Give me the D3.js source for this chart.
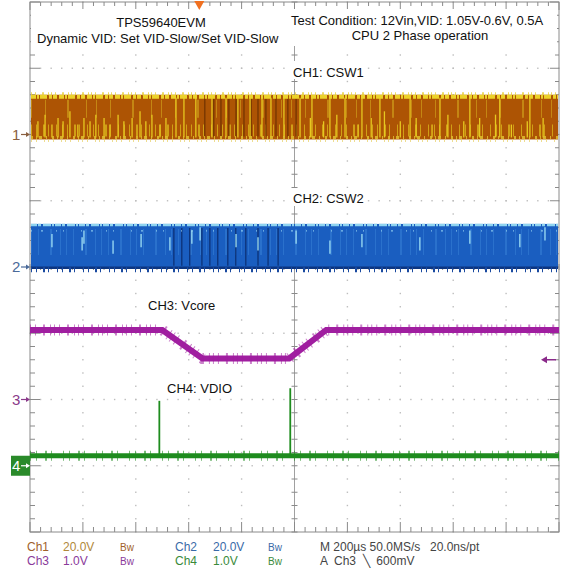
<!DOCTYPE html>
<html><head><meta charset="utf-8">
<script src="https://cdn.jsdelivr.net/npm/d3@7"></script>
<style>body{margin:0;background:#fff} svg{display:block}</style>
</head><body><svg id="c" width="564" height="569"></svg>
<script>
// ---------- data ----------
const timeRange = [-640, 1360];          // µs, 200 µs/div, trigger at 0
const chOffsetDiv = [2, 0, -2, -3];      // ground marker position (div)
const chVoltsPerDiv = [20, 20, 1, 1];
const ch1Band = [-1.5, 12];              // V (switching band low/high)
const ch2Band = [-0.5, 13];
const ch3Time = [-640, -140, 12, 340, 480, 1360];
const ch3Volt = [1.05, 1.05, 0.62, 0.62, 1.05, 1.05];
const ch4Time = [-640, 1360];
const ch4Volt = [0.15, 0.15];
const ch4SpikeT = [-151, 344];
const ch4SpikeV = [0.98, 1.17];
const ch1ShortStreakT = [-610,-583,-557,-534,-515,-489,-459,-436,-413,-391,-360,-338,-307,-285,-254,-224,-202,-179,-149,-126,420,470,520,600,650,700,760,820,880,940,1000,1060,1120,1180,1240,1300];
const ch1ShortStreakV = [4,6,3,5,4,7,3,5,4,6,5,3,6,4,5,7,4,6,3,5,5,4,6,3,5,7,4,5,3,6,4,5,6,3,4,5];
const ch1TallStreakT = [-88,-58,-13,48,101,146,192,237,271,320,381,426,494,551,615,683,797,910,1023,1136,1250];
const ch1DarkStreakT = [21,55,82,112,139,169,196,222,252,290,335,366];
const ch2LightStreakT = [-557,-443,-436,-326,-220,-111,-28,3,139,222,366,494,615,834,1023,1212,1307];
const ch2LightStreakV = [10,9,11,8,10,9,11,12,10,9,11,8,10,9,11,10,12];
const ch2DarkStreakT = [-96,-66,-36,10,40,70,108,138,176,222,260,298];
const triggerLevelV = 0.6;
const statusX = [27, 63, 120, 175, 213, 268, 320, 430];
const statusRow1 = ["Ch1","20.0V","Bw","Ch2","20.0V","Bw","M 200µs 50.0MS/s","20.0ns/pt"];
const statusRow2 = ["Ch3","1.0V","Bw","Ch4","1.0V","Bw","A  Ch3  \u2572  600mV"];
const statusCol1 = ["#a0602a","#b0883a","#a0602a","#3a6aa8","#3a6aa8","#3a6aa8","#444","#444"];
const statusCol2 = ["#8a3a9a","#8a3a9a","#8a3a9a","#3a8a3a","#3a8a3a","#3a8a3a","#444"];

// ---------- layout ----------
const L=30, R=559, T=2, B=532;
const svg = d3.select("#c");
const x = d3.scaleLinear().domain(timeRange).range([L,R]);
const yDiv = d3.scaleLinear().domain([-4,4]).range([B,T]);
const yV = (ch,v) => yDiv(chOffsetDiv[ch] + v/chVoltsPerDiv[ch]);
const divT = i => timeRange[0] + i*200;
const FONT = "'Liberation Sans', Arial, sans-serif";
const NARROW = "'Liberation Sans Narrow','Arial Narrow','Liberation Sans',sans-serif";

// grid dots
const g = svg.append("g");
const dots = [];
for (let i=1;i<10;i++){ if(i===5) continue; for(let j=0;j<=40;j++) dots.push([x(divT(i)), yDiv(-4+j*0.2)]); }
for (let k=-3;k<=3;k++){ if(k===0) continue; for(let j=0;j<=50;j++) dots.push([x(timeRange[0]+j*40), yDiv(k)]); }
g.selectAll("rect.dot").data(dots).join("rect").attr("class","dot")
  .attr("x",d=>d[0]-0.7).attr("y",d=>d[1]-0.7).attr("width",1.4).attr("height",1.4).attr("fill","#bdbdbd");

// frame
const cx = x(divT(5)), cy = yDiv(0);
g.append("rect").attr("x",L).attr("y",T).attr("width",R-L).attr("height",B-T).attr("fill","none").attr("stroke","#8a8a8a").attr("stroke-width",1);
g.append("line").attr("x1",cx).attr("x2",cx).attr("y1",T).attr("y2",B).attr("stroke","#a0a0a0");
g.append("line").attr("x1",L).attr("x2",R).attr("y1",cy).attr("y2",cy).attr("stroke","#a0a0a0");
const ticks = [];
for(let j=0;j<=50;j++){ const xx=x(timeRange[0]+j*40), maj=j%5===0;
  ticks.push([xx,T,xx,T+(maj?8:4)]); ticks.push([xx,B,xx,B-(maj?10:5)]);
  ticks.push([xx,cy-3,xx,cy+3]); }
for(let j=0;j<=40;j++){ const yy=yDiv(-4+j*0.2), maj=j%5===0;
  ticks.push([L,yy,L+(maj?10:5),yy]); ticks.push([R,yy,R-(maj?9:4),yy]);
  ticks.push([cx-3,yy,cx+3,yy]); }
g.selectAll("line.tk").data(ticks).join("line").attr("class","tk")
  .attr("x1",d=>d[0]).attr("y1",d=>d[1]).attr("x2",d=>d[2]).attr("y2",d=>d[3]).attr("stroke","#8a8a8a");

// white boxes behind text
const wb=[[31,9,258,40],[287,9,270,37],[289,61,74,18],[289,188,74,18],[144,295,66,18],[163,377,76,18]];
svg.selectAll("rect.wb").data(wb).join("rect").attr("class","wb")
  .attr("x",d=>d[0]).attr("y",d=>d[1]).attr("width",d=>d[2]).attr("height",d=>d[3]).attr("fill","#fff");

// ---------- CH1 ----------
const c1 = svg.append("g");
const c1Top = yV(0,ch1Band[1]), c1Bot = yV(0,ch1Band[0]);
c1.append("rect").attr("x",L+1).attr("y",c1Top).attr("width",R-L-2).attr("height",c1Bot-c1Top).attr("fill","#ad5404");
c1.append("line").attr("x1",L+1).attr("x2",R-1).attr("y1",c1Bot-9).attr("y2",c1Bot-9)
  .attr("stroke","#dcb81c").attr("stroke-width",12).attr("stroke-dasharray","1 4 1 6 2 3 1 7 1 5").attr("opacity",0.75);
c1.append("line").attr("x1",L+1).attr("x2",R-1).attr("y1",c1Top+14).attr("y2",c1Top+14)
  .attr("stroke","#d8b020").attr("stroke-width",18).attr("stroke-dasharray","1 13 1 21 2 17 1 9").attr("opacity",0.55);
c1.selectAll("line.ds").data(ch1DarkStreakT).join("line").attr("class","ds")
  .attr("x1",d=>x(d)).attr("x2",d=>x(d)).attr("y1",c1Top+4).attr("y2",c1Bot-3).attr("stroke","#6a3000").attr("stroke-width",1.1);
c1.selectAll("line.ts").data(ch1TallStreakT).join("line").attr("class","ts")
  .attr("x1",d=>x(d)).attr("x2",d=>x(d)).attr("y1",c1Top+3).attr("y2",c1Bot-2).attr("stroke","#e6c820").attr("stroke-width",1.3);
c1.selectAll("line.ss").data(ch1ShortStreakT).join("line").attr("class","ss")
  .attr("x1",d=>x(d)).attr("x2",d=>x(d)).attr("y1",(d,i)=>yV(0,ch1ShortStreakV[i])).attr("y2",c1Bot-2).attr("stroke","#e6c820").attr("stroke-width",1.3);
c1.append("line").attr("x1",L+1).attr("x2",R-1).attr("y1",c1Top+2).attr("y2",c1Top+2)
  .attr("stroke","#ecd22a").attr("stroke-width",4).attr("stroke-dasharray","5 1 2 1 7 2 3 1 4 2");
c1.append("line").attr("x1",L+1).attr("x2",R-1).attr("y1",c1Top-1).attr("y2",c1Top-1)
  .attr("stroke","#e8d040").attr("stroke-width",3).attr("stroke-dasharray","1 3 1 6 2 4 1 2").attr("opacity",0.8);
c1.append("line").attr("x1",L+1).attr("x2",R-1).attr("y1",c1Bot-2).attr("y2",c1Bot-2)
  .attr("stroke","#e0c030").attr("stroke-width",3).attr("stroke-dasharray","2 3 1 2 3 4 1 5").attr("opacity",0.85);
c1.append("line").attr("x1",L+1).attr("x2",R-1).attr("y1",c1Bot+1).attr("y2",c1Bot+1)
  .attr("stroke","#e8d060").attr("stroke-width",3).attr("stroke-dasharray","1 4 1 7 1 3").attr("opacity",0.7);

// ---------- CH2 ----------
const c2 = svg.append("g");
const c2Top = yV(1,ch2Band[1]), c2Bot = yV(1,ch2Band[0]);
c2.append("rect").attr("x",L+1).attr("y",c2Top).attr("width",R-L-2).attr("height",c2Bot-c2Top).attr("fill","#1a5ec0");
c2.append("line").attr("x1",L+1).attr("x2",R-1).attr("y1",c2Top+18).attr("y2",c2Top+18)
  .attr("stroke","#3a84d8").attr("stroke-width",26).attr("stroke-dasharray","1 6 1 11 2 8 1 5").attr("opacity",0.5);
c2.selectAll("line.ds").data(ch2DarkStreakT).join("line").attr("class","ds")
  .attr("x1",d=>x(d)).attr("x2",d=>x(d)).attr("y1",c2Top+4).attr("y2",c2Bot-3).attr("stroke","#0a2a6a").attr("stroke-width",1.1);
c2.selectAll("line.ls").data(ch2LightStreakT).join("line").attr("class","ls")
  .attr("x1",d=>x(d)).attr("x2",d=>x(d)).attr("y1",(d,i)=>yV(1,ch2LightStreakV[i])).attr("y2",(d,i)=>yV(1,ch2LightStreakV[i]-4)).attr("stroke","#9fe0f5").attr("stroke-width",1.3);
c2.append("line").attr("x1",L+1).attr("x2",R-1).attr("y1",c2Top+1).attr("y2",c2Top+1)
  .attr("stroke","#8fd4f0").attr("stroke-width",2.5).attr("stroke-dasharray","6 1 3 2 8 1 2 1");
c2.append("line").attr("x1",L+1).attr("x2",R-1).attr("y1",c2Top+7).attr("y2",c2Top+7)
  .attr("stroke","#9fdcf5").attr("stroke-width",1.2).attr("stroke-dasharray","1 9 2 13 1 6 1 17").attr("opacity",0.8);
c2.append("line").attr("x1",L+1).attr("x2",R-1).attr("y1",c2Bot-1).attr("y2",c2Bot-1)
  .attr("stroke","#0c3580").attr("stroke-width",2.5);
c2.append("line").attr("x1",L+1).attr("x2",R-1).attr("y1",c2Bot+1).attr("y2",c2Bot+1)
  .attr("stroke","#1a4aa0").attr("stroke-width",5).attr("stroke-dasharray","1 4 1 6 2 3 1 8");

// ---------- CH3 ----------
const line3 = d3.line().x((d,i)=>x(ch3Time[i])).y((d,i)=>yV(2,ch3Volt[i]));
svg.append("path").attr("d",line3(ch3Time)).attr("fill","none").attr("stroke","#a01ea0").attr("stroke-width",6);
svg.append("path").attr("d",line3(ch3Time)).attr("fill","none").attr("stroke","#a01ea0").attr("stroke-width",11)
  .attr("stroke-dasharray","1 4 1 7 2 5 1 3").attr("opacity",0.55);

// ---------- CH4 ----------
const line4 = d3.line().x((d,i)=>x(ch4Time[i])).y((d,i)=>yV(3,ch4Volt[i]));
svg.append("path").attr("d",line4(ch4Time)).attr("fill","none").attr("stroke","#1e8c1e").attr("stroke-width",5);
svg.append("path").attr("d",line4(ch4Time)).attr("fill","none").attr("stroke","#1e8c1e").attr("stroke-width",10)
  .attr("stroke-dasharray","1 5 1 8 2 4 1 11").attr("opacity",0.6);
svg.selectAll("line.sp").data(ch4SpikeT).join("line").attr("class","sp")
  .attr("x1",d=>x(d)).attr("x2",d=>x(d)).attr("y1",(d,i)=>yV(3,ch4SpikeV[i])).attr("y2",yV(3,0.15)).attr("stroke","#1e8c1e").attr("stroke-width",1.8);

// ---------- markers ----------
const mk = svg.append("g");
function arrow(y, col){ mk.append("line").attr("x1",21).attr("x2",27).attr("y1",y).attr("y2",y).attr("stroke",col).attr("stroke-width",1.2);
  mk.append("path").attr("d",`M${L},${y} L${L-4},${y-2.5} L${L-4},${y+2.5}Z`).attr("fill",col); }
[["1","#8a6040"],["2","#4a6a9a"],["3","#8a3a8a"]].forEach((m,i)=>{
  const y = yDiv(chOffsetDiv[i]);
  mk.append("text").attr("x",12).attr("y",y+5).text(m[0]).attr("fill",m[1]).attr("font-family",NARROW).attr("font-size",15);
  arrow(y,m[1]); });
{ const y = yDiv(chOffsetDiv[3]);
  mk.append("rect").attr("x",11).attr("y",y-10).attr("width",L-11).attr("height",20).attr("fill","#2a8a2a");
  mk.append("text").attr("x",12).attr("y",y+5).text("4").attr("fill","#fff").attr("font-family",NARROW).attr("font-size",15);
  arrow(y,"#fff"); }
{ const tx = x(0);
  mk.append("path").attr("d",`M${tx-5},${T-1} L${tx+5},${T-1} L${tx},${T+8}Z`).attr("fill","#f07020");
  const ty = yV(2,triggerLevelV);
  mk.append("line").attr("x1",546).attr("x2",556).attr("y1",ty).attr("y2",ty).attr("stroke","#8a2a8a").attr("stroke-width",1.5);
  mk.append("path").attr("d",`M${541},${ty} L${547},${ty-3.5} L${547},${ty+3.5}Z`).attr("fill","#8a2a8a"); }

// ---------- text ----------
const tx = svg.append("g").attr("font-family",FONT).attr("font-size",13).attr("fill","#111");
tx.append("text").attr("x",161).attr("y",27).attr("text-anchor","middle").text("TPS59640EVM");
tx.append("text").attr("x",37).attr("y",43).text("Dynamic VID: Set VID-Slow/Set VID-Slow");
tx.append("text").attr("x",291).attr("y",25).text("Test Condition: 12Vin,VID: 1.05V-0.6V, 0.5A");
tx.append("text").attr("x",420).attr("y",40).attr("text-anchor","middle").text("CPU 2 Phase operation");
tx.append("text").attr("x",293).attr("y",77).text("CH1: CSW1");
tx.append("text").attr("x",293).attr("y",203).text("CH2: CSW2");
tx.append("text").attr("x",148).attr("y",310).text("CH3: Vcore");
tx.append("text").attr("x",167).attr("y",393).text("CH4: VDIO");

const st = svg.append("g").attr("font-family",NARROW).attr("font-size",12);
statusRow1.forEach((s,i)=>st.append("text").attr("x",statusX[i]).attr("y",551).attr("fill",statusCol1[i]).attr("font-size",s==="Bw"?10:12).text(s));
statusRow2.forEach((s,i)=>st.append("text").attr("x",statusX[i]).attr("y",565).attr("fill",statusCol2[i]).attr("font-size",s==="Bw"?10:12).style("white-space","pre").text(s));
</script></body></html>
